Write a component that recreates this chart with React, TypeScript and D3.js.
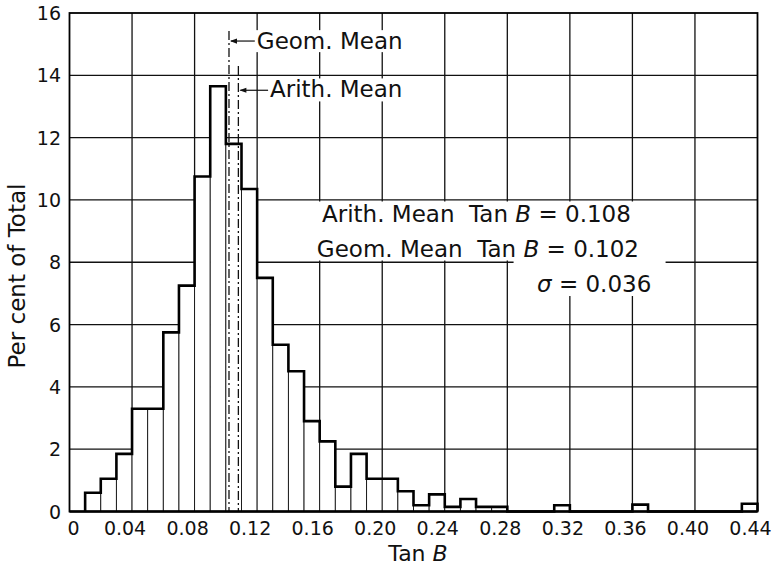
import React from 'react';
import * as d3 from 'd3';

// histogram bins (left edge of each 0.01-wide bin) and percent of total
const binStart = [
	0.01, 0.02, 0.03, 0.04, 0.05, 0.06, 0.07, 0.08, 0.09, 0.1, 0.11, 0.12, 0.13, 0.14, 0.15,
	0.16, 0.17, 0.18, 0.19, 0.2, 0.21, 0.22, 0.23, 0.24, 0.25, 0.26, 0.27, 0.28, 0.29, 0.3,
	0.31, 0.32, 0.33, 0.34, 0.35, 0.36, 0.37, 0.38, 0.39, 0.4, 0.41, 0.42, 0.43,
];
const percent = [
	0.6, 1.05, 1.85, 3.3, 3.3, 5.75, 7.25, 10.75, 13.65, 11.8, 10.35, 7.5, 5.35, 4.5, 2.9,
	2.25, 0.8, 1.85, 1.05, 1.05, 0.65, 0.2, 0.55, 0.15, 0.4, 0.15, 0.15, 0, 0, 0,
	0.2, 0, 0, 0, 0, 0.22, 0, 0, 0, 0, 0, 0, 0.25,
];
const binWidth = 0.01;

const xTicks = [0, 0.04, 0.08, 0.12, 0.16, 0.2, 0.24, 0.28, 0.32, 0.36, 0.4, 0.44];
const xTickLabels = ['0', '0.04', '0.08', '0.12', '0.16', '0.20', '0.24', '0.28', '0.32', '0.36', '0.40', '0.44'];
const yTicks = [0, 2, 4, 6, 8, 10, 12, 14, 16];

const arithMean = 0.108;
const geomMean = 0.102;

const W = 774;
const H = 568;
const left = 69.5;
const right = 757.5;
const top = 13;
const bottom = 511.5;

const FONT = "'DejaVu Sans', sans-serif";

const App: React.FC = () => {
	const x = d3.scaleLinear().domain([0, 0.44]).range([left, right]);
	const y = d3.scaleLinear().domain([0, 16]).range([bottom, top]);

	const bins = binStart.map((s, i) => ({ x0: s, x1: s + binWidth, v: percent[i] }));

	// step outline along the tops of the bars
	const pts: [number, number][] = [[bins[0].x0, 0]];
	bins.forEach((b) => {
		pts.push([b.x0, b.v]);
		pts.push([b.x1, b.v]);
	});
	pts.push([bins[bins.length - 1].x1, 0]);
	const outline = d3
		.line<[number, number]>()
		.x((d) => x(d[0]))
		.y((d) => y(d[1]))(pts);

	const dash = '9,3,2,3';

	return (
		<svg
			width={W}
			height={H}
			style={{ position: 'absolute', left: 0, top: 0, background: '#fff' }}
			fontFamily={FONT}
		>
			<rect width={W} height={H} fill='#fff' />

			{/* grid */}
			<g stroke='#111' strokeWidth={1.3}>
				{xTicks.slice(1, -1).map((t) => (
					<line key={'gx' + t} x1={x(t)} x2={x(t)} y1={y(16)} y2={y(0)} />
				))}
				{yTicks.slice(1, -1).map((t) => (
					<line key={'gy' + t} x1={x(0)} x2={x(0.44)} y1={y(t)} y2={y(t)} />
				))}
			</g>

			{/* white boxes behind annotation texts */}
			<g fill='#fff'>
				<rect x={x(0.1192)} y={y(15.45)} width={148} height={22} />
				<rect x={x(0.1275)} y={y(13.9)} width={150} height={23} />
				<rect x={x(0.1565)} y={y(9.95)} width={338} height={59} />
				<rect x={x(0.284)} y={y(8.2)} width={152} height={40} />
			</g>

			{/* bars */}
			<g fill='#fff' stroke='#111' strokeWidth={0.9}>
				{bins
					.filter((b) => b.v > 0)
					.map((b) => (
						<rect
							key={b.x0}
							x={x(b.x0)}
							y={y(b.v)}
							width={x(b.x1) - x(b.x0)}
							height={y(0) - y(b.v)}
						/>
					))}
			</g>

			{/* mean lines */}
			<g stroke='#111' strokeWidth={1.3} strokeDasharray={dash}>
				<line x1={x(geomMean)} x2={x(geomMean)} y1={y(15.42)} y2={y(0)} />
				<line x1={x(arithMean)} x2={x(arithMean)} y1={y(14.3)} y2={y(0)} />
			</g>

			<path d={outline ?? ''} fill='none' stroke='#000' strokeWidth={2.6} strokeLinejoin='miter' />

			{/* frame */}
			<rect
				x={x(0)}
				y={y(16)}
				width={x(0.44) - x(0)}
				height={y(0) - y(16)}
				fill='none'
				stroke='#000'
				strokeWidth={1.8}
			/>
			<line x1={x(0)} x2={x(0.44)} y1={y(0)} y2={y(0)} stroke='#000' strokeWidth={2.4} />

			{/* arrows to the mean lines */}
			<g stroke='#111' strokeWidth={1.2} fill='#111'>
				<line x1={x(geomMean) + 2} x2={x(0.1185)} y1={y(15.1)} y2={y(15.1)} />
				<path d={`M${x(geomMean) + 1},${y(15.1)} l7,-2.6 l0,5.2 z`} stroke='none' />
				<line x1={x(arithMean) + 2} x2={x(0.127)} y1={y(13.52)} y2={y(13.52)} />
				<path d={`M${x(arithMean) + 1},${y(13.52)} l7,-2.6 l0,5.2 z`} stroke='none' />
			</g>

			<g fontSize={23} fill='#111'>
				<text x={x(0.1198)} y={y(14.84)}>Geom. Mean</text>
				<text x={x(0.1282)} y={y(13.3)}>Arith. Mean</text>
				<text x={x(0.1615)} y={y(9.3)} style={{ whiteSpace: 'pre' }}>
					{'Arith. Mean  Tan '}
					<tspan fontStyle='italic'>B</tspan>
					{' = 0.108'}
				</text>
				<text x={x(0.1582)} y={y(8.18)} style={{ whiteSpace: 'pre' }}>
					{'Geom. Mean  Tan '}
					<tspan fontStyle='italic'>B</tspan>
					{' = 0.102'}
				</text>
				<text x={x(0.299)} y={y(7.05)} style={{ whiteSpace: 'pre' }}>
					<tspan fontStyle='italic'>σ</tspan>
					{' = 0.036'}
				</text>
			</g>

			{/* x tick labels */}
			<g fontSize={19} fill='#111' textAnchor='middle'>
				{xTicks.map((t, i) => (
					<text key={'xl' + t} x={x(t) + (t === 0 ? 4 : -7)} y={535}>
						{xTickLabels[i]}
					</text>
				))}
			</g>

			{/* y tick labels */}
			<g fontSize={19} fill='#111' textAnchor='end'>
				{yTicks.map((t) => (
					<text key={'yl' + t} x={61} y={y(t) + 7}>
						{t}
					</text>
				))}
			</g>

			{/* axis titles */}
			<text x={418} y={561} fontSize={22} textAnchor='middle' fill='#111'>
				{'Tan '}
				<tspan fontStyle='italic'>B</tspan>
			</text>
			<text
				transform='translate(25,276) rotate(-90)'
				fontSize={23}
				textAnchor='middle'
				fill='#111'
			>
				Per cent of Total
			</text>
		</svg>
	);
};

export default App;
